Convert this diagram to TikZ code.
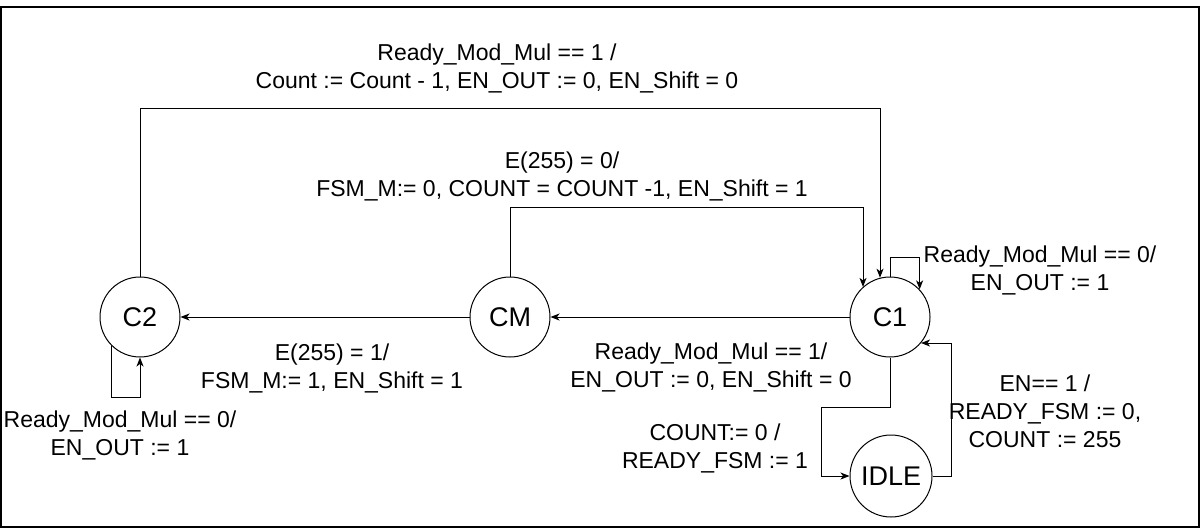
\documentclass[tikz,border=0pt]{standalone}
\usepackage{fontspec}
\setmainfont{Liberation Sans}
\usetikzlibrary{arrows.meta}
\begin{document}
\begin{tikzpicture}[x=1pt,y=-1pt,
  state/.style={draw,circle,line width=1pt,minimum size=80pt,inner sep=0pt,font=\fontsize{27}{30}\selectfont},
  lbl/.style={align=center,inner sep=0pt,font=\fontsize{23}{28}\selectfont},
  arr/.style={draw,line width=1pt,-{Stealth[length=9pt,width=7pt,inset=2.5pt]}}]
\useasboundingbox (0,0) rectangle (1201,528);
\draw[line width=1.4pt] (1,7) rectangle (1199,527);
% states
\node[state] (C2) at (140,317) {C2};
\node[state] (CM) at (510,317) {CM};
\node[state] (C1) at (890,317) {C1};
\node[state,minimum size=82pt] (IDLE) at (891,476) {IDLE};
% corner coordinates
\coordinate (k1) at (880,108);
\coordinate (k2) at (863,207);
\coordinate (k5) at (140,397);
\coordinate (k6) at (821,407);
\coordinate (k8) at (951,343);
% connectors
\draw[arr] (C2.north) |- (k1) -- (k1 |- C1.104.5);
\draw[arr] (CM.north) |- (k2) -- (k2 |- C1.132.5);
\draw[arr] (C1.north) -- ++(0,-19) -| (C1.43.5);
\draw[arr] (C1.west) -- (CM.east);
\draw[arr] (CM.west) -- (C2.east);
\draw[arr] (C2.225.6) |- (k5) -- (C2.south);
\draw[arr] (C1.south) |- (k6) |- (IDLE.west);
\draw[arr] (IDLE.east) -| (k8) -- (k8 -| C1.-40.5);
% labels
\node[lbl] (l1) at (497,68) {Ready\_Mod\_Mul == 1 /\\Count := Count - 1, EN\_OUT := 0, EN\_Shift = 0};
\node[lbl] (l2) at (562,176) {E(255) = 0/\\FSM\_M:= 0, COUNT = COUNT -1, EN\_Shift = 1};
\node[lbl] (l3) at (1040,270) {Ready\_Mod\_Mul == 0/\\EN\_OUT := 1};
\node[lbl] (l4) at (332,368) {E(255) = 1/\\FSM\_M:= 1, EN\_Shift = 1};
\node[lbl] (l5) at (711,367) {Ready\_Mod\_Mul == 1/\\EN\_OUT := 0, EN\_Shift = 0};
\node[lbl] (l6) at (120,435) {Ready\_Mod\_Mul == 0/\\EN\_OUT := 1};
\node[lbl] (l7) at (715,448) {COUNT:= 0 /\\READY\_FSM := 1};
\node[lbl] (l8) at (1045,411) {EN== 1 /\\READY\_FSM := 0,\\COUNT := 255};
\end{tikzpicture}
\end{document}
